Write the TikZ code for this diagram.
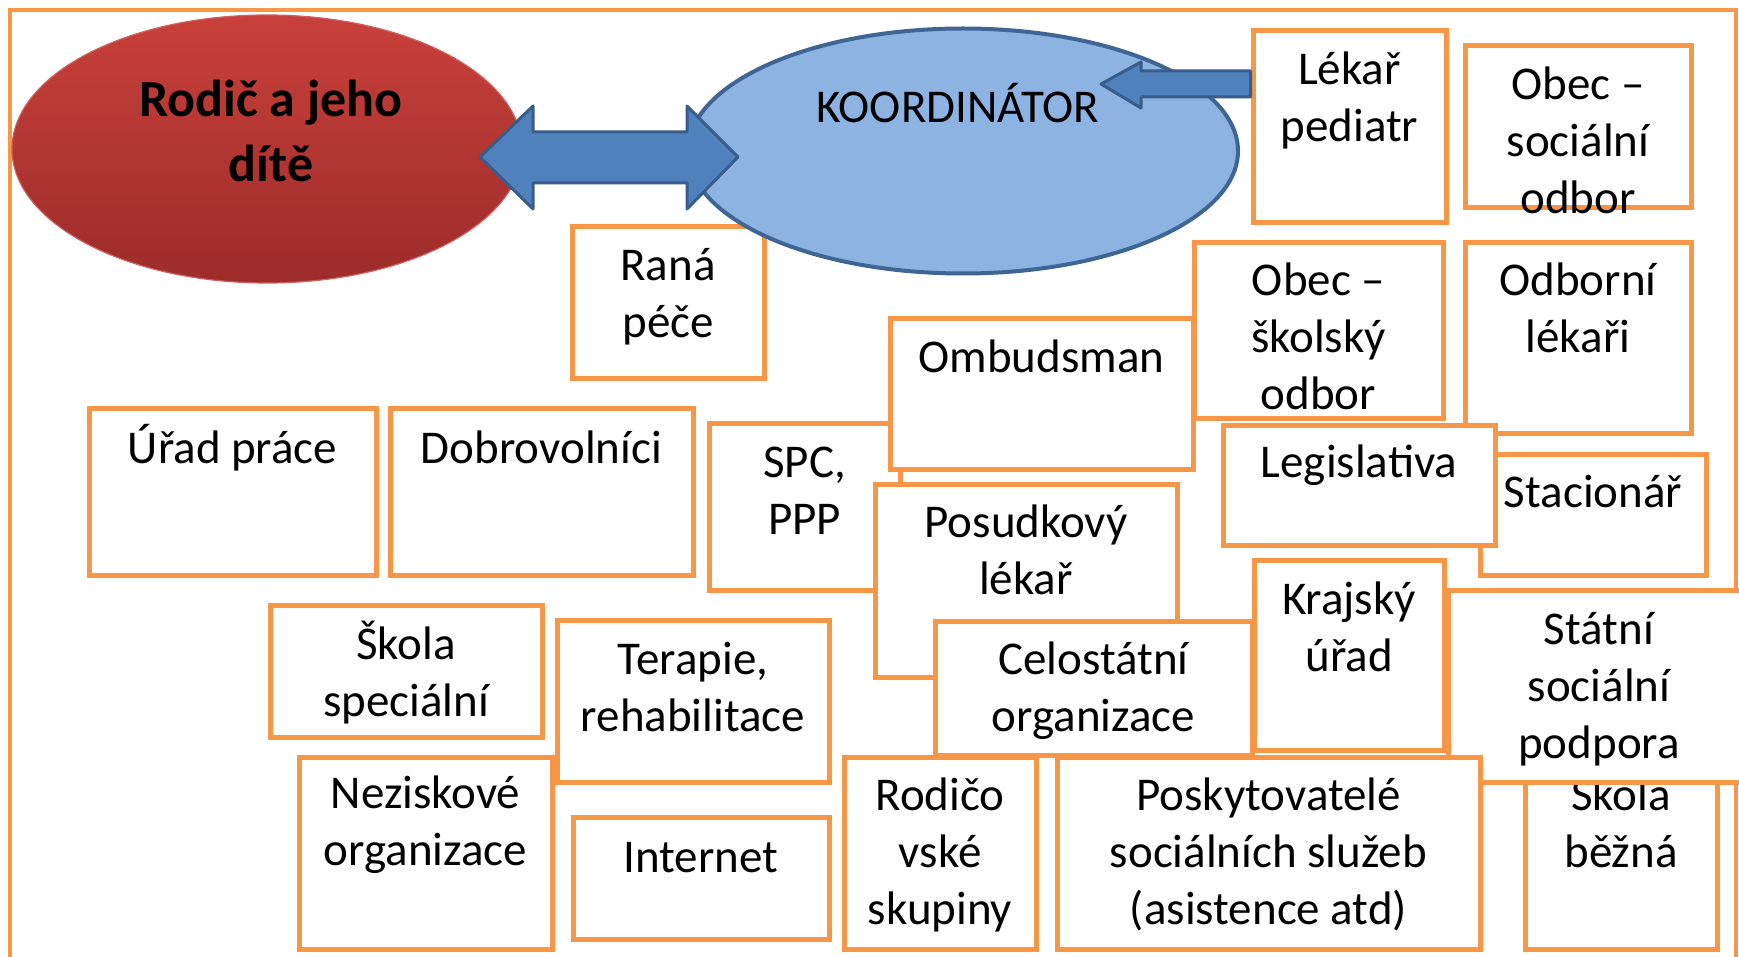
\documentclass[tikz,border=0pt]{standalone}
\usepackage{fontspec}
\setmainfont{Carlito}
\usetikzlibrary{shapes.geometric,fit}
\definecolor{orng}{HTML}{F79646}
\definecolor{redtop}{HTML}{C9403B}
\definecolor{redbot}{HTML}{9C2C2A}
\definecolor{redline}{HTML}{D0605C}
\definecolor{bluefill}{HTML}{8DB3E2}
\definecolor{blueline}{HTML}{3F6594}
\definecolor{arrfill}{HTML}{4F81BD}
\definecolor{arrline}{HTML}{385D8A}
\tikzset{
  box/.style={draw=orng, line width=2.5pt, fill=white, inner sep=0pt},
  framebox/.style={draw=orng, line width=2pt, inner sep=0pt},
  lbl/.style={anchor=base, align=center, inner sep=0pt, font=\fontsize{23.5pt}{28.5pt}\selectfont},
  twolines/.style={yshift=-28.5pt},
  threelines/.style={yshift=-57pt},
  blockarrow/.style={fill=arrfill, draw=arrline, line width=1.5pt, line join=round}
}
\begin{document}
\begin{tikzpicture}[x=0.5pt,y=-0.5pt]
\useasboundingbox (0,0) rectangle (1739,957);
\clip (0,0) rectangle (1739,957);
\fill[white] (0,0) rectangle (1739,957);

\node[framebox, fit={(10,10)(1736,1010)}] (frame) {};

% parent ellipse
\node[ellipse, draw=redline, line width=0.6pt, top color=redtop, bottom color=redbot,
      minimum width=255pt, minimum height=134pt, inner sep=0pt] (parent) at (267,149) {};
\node[anchor=base, align=center, inner sep=0pt, font=\fontsize{26pt}{32.5pt}\selectfont\bfseries]
      (parent-t) at (271,182) {Rodič a jeho\\dítě};

% Raná péče (under coordinator)
\node[box, fit={(572,227)(764,378)}] (rana) {};
\node[lbl, twolines] (rana-t) at ([yshift=-28pt]rana.north) {Raná\\péče};

% coordinator ellipse
\node[ellipse, draw=blueline, line width=2pt, fill=bluefill,
      minimum width=275pt, minimum height=122.5pt, inner sep=0pt] (koord) at (963,151) {};
\node[lbl] (koord-t) at (958,123) {KOORDINÁTOR};

% double arrow between parent and coordinator
\draw[blockarrow] (480,157) -- (533,106) -- (533,132) -- (687,132) -- (687,106)
   -- (738,157) -- (687,209) -- (687,183) -- (533,183) -- (533,209) -- cycle;

% Lékař pediatr
\node[box, fit={(1253,31)(1446,223)}] (lekar) {};
\node[lbl, twolines] (lekar-t) at ([yshift=-28pt]lekar.north) {Lékař\\pediatr};
\coordinate (arrtip) at (1101,84);
\draw[blockarrow] (arrtip) -- (1141,62) -- (1141,71) -- (lekar.west |- 0,71)
   -- (lekar.west |- 0,97) -- (1141,97) -- (1141,108) -- cycle;

% Obec – sociální odbor
\node[box, fit={(1465,46)(1691,208)}] (obecsoc) {};
\node[lbl, threelines] (obecsoc-t) at ([yshift=-28pt]obecsoc.north) {Obec –\\sociální\\odbor};

% Úřad práce, Dobrovolníci
\node[box, fit={(89,408)(376,575)}] (urad) {};
\node[lbl] (urad-t) at ([yshift=-29pt]urad.north) {Úřad práce};
\node[box, fit={(390,408)(693,575)}] (dobro) {};
\node[lbl] (dobro-t) at ([yshift=-29pt]dobro.north) {Dobrovolníci};

% SPC, PPP
\node[box, fit={(709,423)(900,590)}] (spc) {};
\node[lbl, twolines] (spc-t) at ([yshift=-28.5pt]spc.north) {SPC,\\PPP};

% Ombudsman
\node[box, fit={(890,318)(1193,469)}] (ombud) {};
\node[lbl] (ombud-t) at ([yshift=-28.5pt]ombud.north) {Ombudsman};

% Obec – školský odbor
\node[box, fit={(1194,243)(1443,418)}] (obecskol) {};
\node[lbl, threelines] (obecskol-t) at ([yshift=-27.5pt]obecskol.north) {Obec –\\školský\\odbor};

% Odborní lékaři
\node[box, fit={(1465,243)(1691,433)}] (odborni) {};
\node[lbl, twolines] (odborni-t) at ([yshift=-27.5pt]odborni.north) {Odborní\\lékaři};

% Stacionář
\node[box, fit={(1480,454)(1706,575)}] (stac) {};
\node[lbl] (stac-t) at ([yshift=-28pt]stac.north) {Stacionář};

% Legislativa
\node[box, fit={(1223,425)(1495,545)}] (legis) {};
\node[lbl] (legis-t) at ([yshift=-27.5pt]legis.north) {Legislativa};

% Posudkový lékař
\node[box, fit={(875,484)(1177,677)}] (posud) {};
\node[lbl, twolines] (posud-t) at ([yshift=-28pt]posud.north) {Posudkový\\lékař};

% Celostátní organizace
\node[box, fit={(935,621)(1252,755)}] (celost) {};
\node[lbl, twolines] (celost-t) at ([yshift=-28pt]celost.north) {Celostátní\\organizace};

% Krajský úřad
\node[box, fit={(1254,560)(1444,750)}] (kraj) {};
\node[lbl, twolines] (kraj-t) at ([yshift=-28.5pt]kraj.north) {Krajský\\úřad};

% Škola běžná (under Státní)
\node[box, fit={(1525,757)(1717,949)}] (skolab) {};
\node[lbl, twolines] (skolab-t) at ([yshift=-28pt]skolab.north) {Škola\\běžná};

% Státní sociální podpora
\node[box, fit={(1448,590)(1750,782)}] (statni) {};
\node[lbl, threelines] (statni-t) at ([yshift=-28.5pt]statni.north) {Státní\\sociální\\podpora};

% Škola speciální
\node[box, fit={(270,605)(542,737)}] (skolas) {};
\node[lbl, twolines] (skolas-t) at ([yshift=-28.5pt]skolas.north) {Škola\\speciální};

% Terapie, rehabilitace
\node[box, fit={(557,620)(829,782)}] (terapie) {};
\node[lbl, twolines] (terapie-t) at ([yshift=-28.5pt]terapie.north) {Terapie,\\rehabilitace};

% Neziskové organizace
\node[box, fit={(299,757)(552,949)}] (nezisk) {};
\node[lbl, twolines] (nezisk-t) at ([yshift=-27pt]nezisk.north) {Neziskové\\organizace};

% Internet
\node[box, fit={(573,817)(829,939)}] (internet) {};
\node[lbl] (internet-t) at ([yshift=-29pt]internet.north) {Internet};

% Rodičovské skupiny
\node[box, fit={(844,757)(1036,949)}] (rodic) {};
\node[lbl, threelines] (rodic-t) at ([yshift=-28pt]rodic.north) {Rodičo\\vské\\skupiny};

% Poskytovatelé sociálních služeb
\node[box, fit={(1057,757)(1480,949)}] (posky) {};
\node[lbl, threelines] (posky-t) at ([yshift=-28pt]posky.north) {Poskytovatelé\\sociálních služeb\\(asistence atd)};

\end{tikzpicture}
\end{document}
